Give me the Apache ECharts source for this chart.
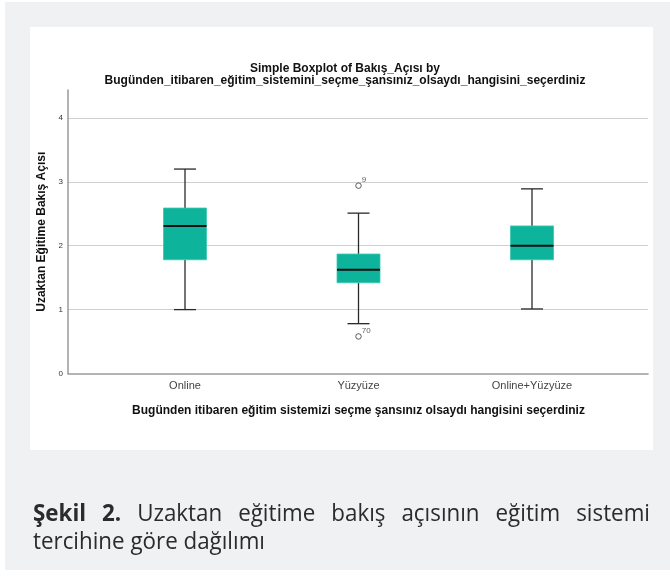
<!DOCTYPE html>
<html><head><meta charset="utf-8">
<script src="https://cdn.jsdelivr.net/npm/echarts@6/dist/echarts.min.js"></script>
<style>
html,body{margin:0;padding:0;width:670px;height:581px;background:#fff;overflow:hidden;}
#panel{position:absolute;left:5px;top:2px;width:665px;height:568px;background:#f0f1f3;}
#white{position:absolute;left:30px;top:27px;width:623px;height:423px;background:#fff;}
#chart{position:absolute;left:0;top:0;width:670px;height:581px;}
.cap{position:absolute;left:33px;font-family:"Open Sans","Lato",sans-serif;font-size:23px;line-height:28px;color:#2b2b2b;white-space:nowrap;transform-origin:0 50%;}
#cap1{top:498px;text-align:justify;text-align-last:justify;}
#cap2{top:526px;}
</style></head><body>
<div id="panel"></div><div id="white"></div>
<div id="chart"></div>
<div id="cap1" class="cap"><b>Şekil 2.</b> Uzaktan eğitime bakış açısının eğitim sistemi</div>
<div id="cap2" class="cap"><span id="cap2t">tercihine göre dağılımı</span></div>
<script>
const categories = ['Online', 'Yüzyüze', 'Online+Yüzyüze'];
// [min whisker, Q1, median, Q3, max whisker]
const boxStats = [
  [1.00, 1.78, 2.31, 2.59, 3.20],
  [0.78, 1.42, 1.625, 1.87, 2.51],
  [1.01, 1.78, 2.00, 2.31, 2.89]
];
const outliers = [[1, 2.94, '9'], [1, 0.58, '70']];
const yTicks = [0, 1, 2, 3, 4];

// caption: condensed look via horizontal scaling
(function () {
  const t = document.getElementById('cap2t');
  const w = t.getBoundingClientRect().width;
  const s = 232 / w;
  const c1 = document.getElementById('cap1');
  const c2 = document.getElementById('cap2');
  c1.style.whiteSpace = 'normal';
  c1.style.width = (617 / s) + 'px';
  c1.style.transform = 'scaleX(' + s + ')';
  c2.style.transform = 'scaleX(' + s + ')';
})();

const chart = echarts.init(document.getElementById('chart'), null, {renderer: 'canvas'});
const yMax = 4.4375;
const boxData = boxStats.map((s, i) => [i].concat(s));
const FF = 'Liberation Sans, Arial, sans-serif';

const option = {
  animation: false,
  backgroundColor: 'transparent',
  title: {
    text: 'Simple Boxplot of Bakış_Açısı by\nBugünden_itibaren_eğitim_sistemini_seçme_şansınız_olsaydı_hangisini_seçerdiniz',
    left: 340, top: 58, textAlign: 'center',
    textStyle: {fontFamily: FF, fontSize: 12, fontWeight: 'bold', color: '#111', lineHeight: 12}
  },
  grid: [
    {left: 68, right: 22, top: 90, bottom: 207.5},
    {left: 98.25, right: 51.25, top: 90, bottom: 207.5}
  ],
  xAxis: [
    {gridIndex: 0, type: 'value', min: 0, max: 1, axisLabel: {show: false}, axisTick: {show: false}, splitLine: {show: false},
     axisLine: {show: true, lineStyle: {color: '#9a9a9a', width: 1.5}}},
    {gridIndex: 1, type: 'category', data: categories, axisLine: {show: false}, axisTick: {show: false},
     axisLabel: {margin: 7, fontSize: 11, color: '#444', fontFamily: FF},
     name: 'Bugünden itibaren eğitim sistemizi seçme şansınız olsaydı hangisini seçerdiniz',
     nameLocation: 'middle', nameGap: 31,
     nameTextStyle: {fontSize: 12, fontWeight: 'bold', color: '#111', fontFamily: FF}}
  ],
  yAxis: [
    {gridIndex: 0, type: 'value', min: 0, max: yMax, interval: 1,
     axisLine: {show: true, lineStyle: {color: '#9a9a9a', width: 1.5}},
     axisTick: {show: false},
     axisLabel: {showMaxLabel: false, margin: 5, fontSize: 8, color: '#333', fontFamily: FF,
       formatter: v => (yTicks.indexOf(v) >= 0 ? String(v) : '')},
     splitLine: {show: true, showMinLine: false, showMaxLine: false, lineStyle: {color: '#cfcfcf', width: 1}},
     name: 'Uzaktan Eğitime Bakış Açısı', nameLocation: 'middle', nameGap: 15,
     nameTextStyle: {fontSize: 12, fontWeight: 'bold', color: '#111', fontFamily: FF}},
    {gridIndex: 1, type: 'value', min: 0, max: yMax, show: false}
  ],
  series: [
    {
      type: 'custom', xAxisIndex: 1, yAxisIndex: 1, data: boxData, z: 5,
      renderItem: function (params, api) {
        const x = api.value(0);
        const pMin = api.coord([x, api.value(1)]);
        const pQ1 = api.coord([x, api.value(2)]);
        const pMed = api.coord([x, api.value(3)]);
        const pQ3 = api.coord([x, api.value(4)]);
        const pMax = api.coord([x, api.value(5)]);
        const cx = pMed[0];
        const bw = 43, cw = 22;
        const wStyle = {stroke: '#2a2a2a', lineWidth: 1.3};
        return {
          type: 'group',
          children: [
            {type: 'line', shape: {x1: cx, y1: pMax[1], x2: cx, y2: pQ3[1]}, style: wStyle},
            {type: 'line', shape: {x1: cx, y1: pQ1[1], x2: cx, y2: pMin[1]}, style: wStyle},
            {type: 'line', shape: {x1: cx - cw / 2, y1: pMax[1], x2: cx + cw / 2, y2: pMax[1]}, style: wStyle},
            {type: 'line', shape: {x1: cx - cw / 2, y1: pMin[1], x2: cx + cw / 2, y2: pMin[1]}, style: wStyle},
            {type: 'rect', shape: {x: cx - bw / 2, y: pQ3[1], width: bw, height: pQ1[1] - pQ3[1]},
             style: {fill: '#0db49b', stroke: '#3cc8b0', lineWidth: 0.8}},
            {type: 'line', shape: {x1: cx - bw / 2, y1: pMed[1], x2: cx + bw / 2, y2: pMed[1]},
             style: {stroke: '#111', lineWidth: 2}}
          ]
        };
      }
    },
    {
      type: 'scatter', xAxisIndex: 1, yAxisIndex: 1, data: outliers, z: 6,
      symbol: 'circle', symbolSize: 5.5,
      itemStyle: {color: '#fff', borderColor: '#333', borderWidth: 1},
      label: {show: true, position: 'right', distance: 0, fontSize: 8, color: '#333',
        fontFamily: FF, formatter: p => p.value[2], offset: [0, -6]}
    }
  ]
};
chart.setOption(option);
</script>
</body></html>
